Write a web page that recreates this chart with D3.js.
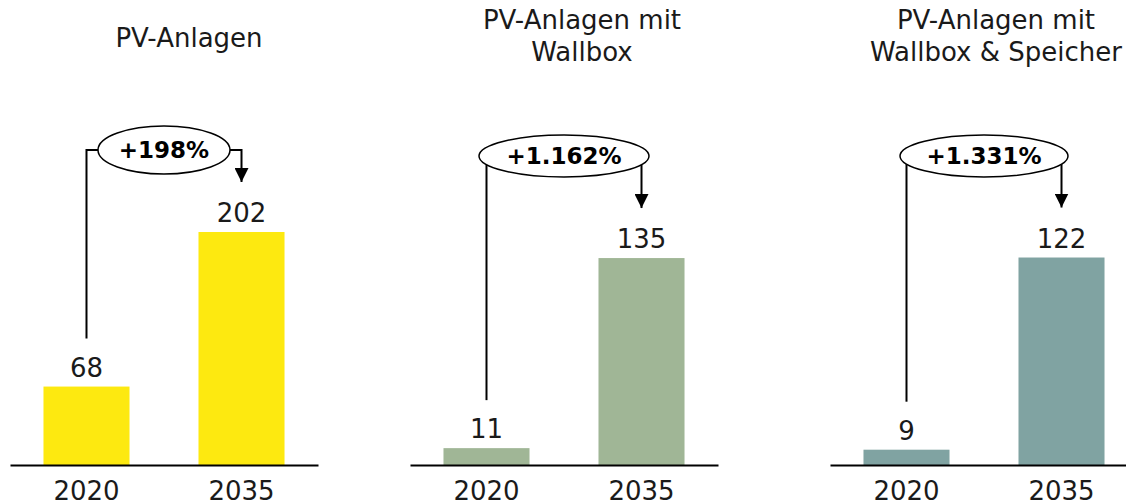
<!DOCTYPE html>
<html>
<head>
<meta charset="utf-8">
<script src="https://cdn.jsdelivr.net/npm/d3@7"></script>
<style>
  body { margin: 0; background: #fff; }
  text { font-family: "DejaVu Sans", sans-serif; fill: #1a1a1a; }
  .pct { font-weight: bold; fill: #000; }
</style>
</head>
<body>
<div id="vis"></div>
<script>
const W = 1126, H = 504;

// data
const panelTitles = [["PV-Anlagen"], ["PV-Anlagen mit", "Wallbox"], ["PV-Anlagen mit", "Wallbox & Speicher"]];
const years = ["2020", "2035"];
const panelValues = [[68, 202], [11, 135], [9, 122]];
const changeLabels = ["+198%", "+1.162%", "+1.331%"];
const barColors = ["#fde910", "#a0b696", "#80a3a2"];

// layout per panel (scale domains differ per panel)
const panelX = [10, 410, 830];
const panelW = 308;
const titleCx = [179, 172, 166];
const yDomainMax = [202, 152, 137];
const ellipseCy = [150, 156, 156];
const ellipseRx = [66, 85, 84];
const ellipseRy = [24, 21, 21];
const baseY = 465, topY = 232;

const svg = d3.select('#vis')
    .append('svg')
    .attr('width', W)
    .attr('height', H);

svg.append('defs').append('marker')
    .attr('id', 'arrow')
    .attr('viewBox', '0 0 10 10')
    .attr('refX', 10).attr('refY', 5)
    .attr('markerWidth', 14).attr('markerHeight', 14)
    .attr('markerUnits', 'userSpaceOnUse')
    .attr('orient', 'auto')
    .append('path')
    .attr('d', 'M0,0 L10,5 L0,10 Z')
    .attr('fill', '#000');

panelValues.forEach((vals, i) => {
    const g = svg.append('g').attr('transform', `translate(${panelX[i]},0)`);

    const x = d3.scaleBand()
        .domain(years)
        .range([0, panelW])
        .paddingInner(0.445)
        .paddingOuter(0.216);

    const y = d3.scaleLinear()
        .domain([0, yDomainMax[i]])
        .range([baseY, topY]);

    const data = years.map((yr, j) => ({ year: yr, value: vals[j] }));

    // bars
    g.selectAll('.bar')
        .data(data)
        .join('rect')
        .attr('class', 'bar')
        .attr('x', d => x(d.year))
        .attr('y', d => y(d.value))
        .attr('width', x.bandwidth())
        .attr('height', d => baseY - y(d.value))
        .attr('fill', barColors[i]);

    // value labels
    g.selectAll('.val')
        .data(data)
        .join('text')
        .attr('class', 'val')
        .attr('x', d => x(d.year) + x.bandwidth() / 2)
        .attr('y', d => y(d.value) - 10)
        .attr('text-anchor', 'middle')
        .style('font-size', '26px')
        .text(d => d.value);

    // x axis
    const xAxis = d3.axisBottom(x).tickSize(0).tickPadding(17);
    const ax = g.append('g')
        .attr('transform', `translate(0,${baseY})`)
        .call(xAxis);
    ax.select('.domain').attr('stroke', '#000').attr('stroke-width', 2);
    ax.selectAll('text')
        .style('font-size', '26px')
        .attr('fill', '#1a1a1a');

    // title
    const lines = panelTitles[i];
    const firstY = lines.length === 1 ? 47 : 29;
    g.append('text')
        .attr('x', titleCx[i])
        .attr('text-anchor', 'middle')
        .style('font-size', '26px')
        .selectAll('tspan')
        .data(lines)
        .join('tspan')
        .attr('x', titleCx[i])
        .attr('y', (d, k) => firstY + k * 32)
        .text(d => d);

    // change annotation
    const c1 = x(years[0]) + x.bandwidth() / 2;
    const c2 = x(years[1]) + x.bandwidth() / 2;
    const ecx = (c1 + c2) / 2;
    const ecy = ellipseCy[i], rx = ellipseRx[i], ry = ellipseRy[i];

    function startPoint(px, side) {
        const dx = px - ecx;
        if (Math.abs(dx) < rx) {
            return [[px, ecy + ry * Math.sqrt(1 - (dx / rx) ** 2)]];
        }
        return [[ecx + side * rx, ecy], [px, ecy]];
    }

    const line = d3.line();
    const leftPts = startPoint(c1, -1).concat([[c1, y(vals[0]) - 48]]);
    const rightPts = startPoint(c2, 1).concat([[c2, y(vals[1]) - 50]]);

    g.append('path')
        .attr('d', line(leftPts))
        .attr('fill', 'none')
        .attr('stroke', '#000')
        .attr('stroke-width', 2);

    g.append('path')
        .attr('d', line(rightPts))
        .attr('fill', 'none')
        .attr('stroke', '#000')
        .attr('stroke-width', 2)
        .attr('marker-end', 'url(#arrow)');

    g.append('ellipse')
        .attr('cx', ecx)
        .attr('cy', ecy)
        .attr('rx', rx)
        .attr('ry', ry)
        .attr('fill', '#fff')
        .attr('stroke', '#000')
        .attr('stroke-width', 1.5);

    g.append('text')
        .attr('class', 'pct')
        .attr('x', ecx)
        .attr('y', ecy + 8)
        .attr('text-anchor', 'middle')
        .style('font-size', '23px')
        .text(changeLabels[i]);
});
</script>
</body>
</html>
